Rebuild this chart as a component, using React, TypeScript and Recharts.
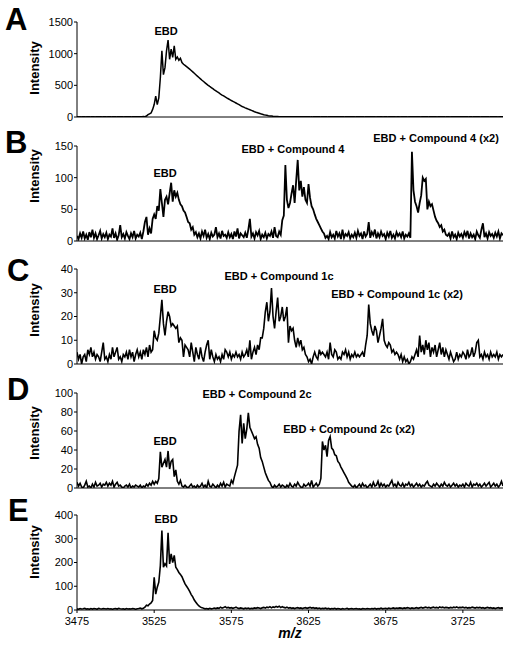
import React from 'react';
import { LineChart, Line, XAxis, YAxis } from 'recharts';

// m/z axis: values sampled every 1 m/z starting at 3475
const mzStart = 3475;
const mzStep = 1;
const mzDomain = [3475, 3751];
const mzTicks = [3475, 3525, 3575, 3625, 3675, 3725];

const intensityA = [
  3, 2, 4, 2, 3, 5, 2, 3, 4, 2,
  3, 4, 2, 3, 5, 3, 2, 4, 3, 2,
  4, 3, 2, 5, 3, 4, 2, 3, 4, 3,
  2, 4, 3, 5, 3, 2, 4, 3, 5, 4,
  3, 4, 5, 6, 5, 15, 36, 50, 64, 120,
  196, 329, 196, 302, 620, 1044, 668, 779, 1044, 1214,
  911, 1070, 940, 1124, 911, 948, 895, 927, 860, 832,
  815, 795, 775, 755, 735, 712, 690, 668, 645, 624,
  602, 580, 560, 540, 520, 500, 482, 465, 448, 430,
  413, 396, 380, 363, 347, 332, 317, 302, 288, 274,
  260, 247, 234, 221, 208, 195, 178, 166, 155, 144,
  134, 124, 114, 104, 94, 84, 75, 67, 59, 51,
  44, 37, 31, 26, 21, 17, 14, 11, 9, 7,
  6, 5, 4, 4, 3, 3, 2, 3, 2, 3,
  2, 3, 2, 2, 3, 2, 3, 2, 2, 3,
  3, 2, 4, 2, 3, 2, 3, 4, 2, 3,
  2, 3, 2, 4, 3, 2, 3, 2, 3, 4,
  3, 2, 3, 2, 4, 3, 2, 3, 2, 3,
  2, 4, 3, 2, 3, 3, 2, 4, 3, 2,
  3, 2, 3, 4, 2, 3, 2, 3, 2, 4,
  3, 2, 4, 3, 2, 3, 4, 2, 3, 2,
  4, 3, 2, 3, 2, 4, 3, 2, 3, 3,
  2, 3, 4, 2, 3, 2, 3, 4, 2, 3,
  3, 2, 3, 2, 4, 3, 2, 3, 4, 2,
  3, 4, 2, 3, 2, 3, 4, 3, 2, 3,
  2, 3, 3, 4, 2, 3, 2, 4, 3, 2,
  3, 2, 4, 3, 3, 2, 3, 2, 4, 3,
  2, 3, 4, 2, 3, 2, 3,
];

const intensityB = [
  8, 3, 12, 5, 15, 4, 10, 2, 14, 6,
  18, 5, 12, 3, 9, 16, 4, 11, 6, 13,
  3, 10, 7, 20, 5, 12, 2, 9, 25, 6,
  11, 4, 14, 8, 3, 12, 6, 16, 4, 10,
  7, 13, 3, 15, 30, 38, 10, 20, 12, 35,
  42, 35, 55, 48, 82, 60, 38, 65, 70, 58,
  75, 92, 62, 80, 70, 76, 65, 58, 55, 48,
  45, 38, 30, 28, 18, 22, 10, 14, 6, 12,
  4, 15, 8, 18, 5, 11, 3, 13, 7, 10,
  22, 6, 12, 4, 16, 8, 10, 5, 14, 6,
  11, 3, 15, 7, 20, 4, 12, 9, 6, 13,
  5, 18, 35, 7, 12, 4, 14, 9, 16, 3,
  10, 6, 13, 4, 11, 8, 15, 5, 22, 8,
  6, 15, 10, 33, 40, 120, 65, 52, 60, 75,
  88, 60, 95, 128, 80, 95, 70, 85, 65, 60,
  90, 68, 55, 50, 42, 35, 30, 25, 20, 15,
  12, 5, 8, 3, 14, 6, 10, 4, 16, 7,
  12, 3, 18, 5, 11, 8, 14, 4, 10, 6,
  13, 5, 16, 8, 12, 3, 15, 7, 11, 30,
  5, 14, 9, 18, 4, 12, 6, 15, 8, 11,
  3, 13, 7, 16, 5, 10, 4, 14, 8, 12,
  6, 15, 4, 10, 7, 12, 5, 141, 80, 62,
  55, 45, 60, 72, 100, 95, 98, 50, 62, 55,
  58, 48, 38, 32, 28, 22, 25, 15, 18, 10,
  8, 12, 4, 15, 6, 10, 3, 13, 7, 11,
  5, 14, 8, 16, 4, 12, 6, 10, 3, 15,
  9, 5, 18, 28, 6, 12, 4, 14, 8, 11,
  5, 13, 7, 15, 4, 12, 9,
];

const intensityC = [
  5, 2, 4, 0, 3, 4, 1, 6, 4, 7,
  3, 5, 2, 4, 3, 1, 5, 9, 2, 3,
  1, 4, 2, 7, 3, 5, 7, 2, 3, 1,
  4, 3, 5, 2, 6, 3, 5, 1, 4, 6,
  3, 5, 2, 6, 4, 7, 3, 8, 5, 6,
  14, 11, 10, 13, 20, 27, 17, 12, 18, 22,
  20, 16, 17, 16, 15, 16, 9, 11, 10, 3,
  8, 7, 6, 3, 9, 5, 1, 7, 4, 2,
  7, 3, 1, 5, 8, 10, 2, 6, 3, 1,
  4, 2, 3, 1, 4, 2, 6, 5, 3, 5,
  2, 4, 3, 5, 3, 4, 2, 5, 3, 4,
  6, 3, 10, 2, 5, 7, 4, 8, 6, 11,
  11, 15, 22, 26, 18, 22, 32, 20, 15, 22,
  28, 18, 20, 24, 18, 20, 24, 9, 16, 14,
  15, 10, 7, 11, 8, 10, 6, 7, 4, 3,
  1, 2, 0, 3, 5, 3, 2, 6, 4, 5,
  4, 3, 5, 2, 9, 4, 3, 6, 5, 2,
  3, 2, 5, 4, 6, 3, 5, 2, 4, 3,
  5, 3, 4, 3, 4, 5, 3, 8, 12, 25,
  17, 14, 12, 16, 14, 9, 12, 15, 19, 10,
  8, 7, 9, 8, 5, 6, 4, 5, 4, 2,
  4, 1, 3, 1, 2, 0, 1, 3, 2, 4,
  6, 3, 12, 5, 8, 4, 10, 6, 9, 3,
  7, 5, 8, 3, 6, 9, 4, 7, 3, 6,
  4, 2, 5, 3, 1, 2, 5, 2, 4, 3,
  5, 4, 2, 6, 3, 4, 7, 3, 5, 9,
  10, 3, 4, 2, 5, 3, 4, 2, 5, 3,
  4, 3, 5, 2, 4, 3, 4,
];

const intensityD = [
  6, 2, 5, 1, 0, 3, 7, 1, 2, 0,
  4, 1, 6, 2, 3, 5, 1, 4, 3, 6,
  2, 5, 3, 7, 1, 4, 6, 2, 3, 1,
  0, 2, 3, 1, 4, 0, 2, 1, 3, 2,
  1, 3, 0, 2, 1, 4, 2, 5, 3, 7,
  4, 7, 5, 10, 38, 22, 26, 30, 22, 39,
  20, 28, 30, 12, 19, 7, 4, 8, 2, 1,
  3, 1, 0, 2, 4, 1, 2, 0, 3, 1,
  2, 5, 1, 3, 0, 7, 2, 1, 4, 2,
  0, 3, 1, 5, 2, 6, 1, 4, 3, 2,
  8, 5, 12, 18, 24, 60, 77, 47, 68, 52,
  62, 79, 64, 60, 56, 52, 54, 46, 42, 32,
  28, 22, 16, 12, 8, 6, 2, 0, 3, 1,
  2, 4, 1, 3, 2, 0, 3, 1, 5, 2,
  1, 4, 2, 6, 3, 1, 0, 4, 2, 3,
  5, 2, 8, 1, 3, 5, 2, 4, 10, 49,
  40, 45, 33, 50, 54, 42, 40, 35, 34, 28,
  26, 22, 19, 16, 13, 10, 6, 4, 2, 1,
  3, 0, 2, 4, 1, 5, 2, 3, 0, 2,
  4, 1, 6, 2, 3, 7, 1, 5, 2, 4,
  1, 3, 2, 5, 8, 2, 4, 1, 6, 3,
  2, 5, 1, 4, 3, 6, 2, 4, 1, 3,
  5, 2, 4, 1, 3, 2, 5, 7, 3, 2,
  1, 4, 2, 5, 3, 1, 4, 2, 6, 3,
  2, 4, 1, 3, 5, 2, 4, 1, 3, 2,
  4, 1, 5, 3, 2, 6, 1, 4, 3, 5,
  2, 4, 1, 3, 5, 2, 4, 6, 1, 3,
  5, 2, 4, 1, 3, 7, 2,
];

const intensityE = [
  5, 3, 6, 4, 5, 7, 4, 5, 3, 6,
  4, 6, 5, 3, 7, 5, 4, 6, 5, 4,
  6, 4, 5, 3, 5, 6, 4, 7, 5, 4,
  5, 3, 6, 4, 5, 4, 6, 5, 3, 5,
  6, 8, 5, 7, 12, 20, 18, 25, 30, 40,
  138, 67, 96, 117, 187, 335, 180, 195, 185, 325,
  194, 236, 200, 230, 180, 170, 158, 150, 140, 125,
  110, 100, 90, 78, 65, 55, 42, 33, 24, 17,
  12, 10, 7, 5, 6, 4, 7, 5, 6, 8,
  6, 9, 7, 12, 8, 10, 14, 9, 11, 8,
  10, 7, 9, 12, 8, 6, 9, 7, 5, 8,
  6, 8, 5, 7, 6, 9, 7, 10, 8, 6,
  9, 11, 8, 12, 10, 14, 9, 13, 11, 15,
  12, 16, 10, 14, 11, 9, 12, 8, 10, 7,
  9, 6, 8, 10, 7, 9, 6, 8, 10, 7,
  9, 11, 8, 10, 7, 9, 6, 8, 5, 7,
  6, 8, 5, 7, 4, 6, 5, 7, 4, 6,
  5, 3, 6, 4, 5, 7, 4, 5, 6, 4,
  5, 6, 4, 5, 3, 6, 5, 4, 6, 5,
  4, 6, 5, 7, 4, 6, 5, 8, 5, 6,
  7, 5, 8, 6, 7, 9, 6, 8, 7, 9,
  8, 6, 9, 7, 10, 8, 6, 9, 7, 8,
  10, 7, 9, 11, 8, 10, 12, 9, 11, 8,
  10, 12, 9, 11, 8, 13, 10, 12, 9, 11,
  10, 8, 11, 9, 12, 10, 13, 9, 11, 10,
  12, 9, 11, 8, 10, 9, 12, 10, 8, 11,
  9, 11, 8, 10, 7, 9, 11, 8, 10, 7,
  9, 6, 8, 10, 7, 9, 8,
];

const ticksA = [0, 500, 1000, 1500];
const ticksB = [0, 50, 100, 150];
const ticksC = [0, 10, 20, 30, 40];
const ticksD = [0, 20, 40, 60, 80, 100];
const ticksE = [0, 100, 200, 300, 400];

const panelLetters = ['A', 'B', 'C', 'D', 'E'];
const peakLabelsA = ['EBD'];
const peakLabelsB = ['EBD', 'EBD + Compound 4', 'EBD + Compound 4 (x2)'];
const peakLabelsC = ['EBD', 'EBD + Compound 1c', 'EBD + Compound 1c (x2)'];
const peakLabelsD = ['EBD', 'EBD + Compound 2c', 'EBD + Compound 2c (x2)'];
const peakLabelsE = ['EBD'];
const yLabel = 'Intensity';
const xLabel = 'm/z';

const FONT = '"Liberation Sans", Arial, Helvetica, sans-serif';

const toRows = (vals: number[]) => vals.map((v, i) => ({ mz: mzStart + i * mzStep, v }));

type PanelCfg = {
  data: number[];
  ticks: number[];
  plotTop: number;
  letter: string;
  letterBaseline: number;
  letterX: number;
  intensityCenter: number;
  labels: string[];
  labelPos: [number, number][];
  showX: boolean;
  stroke: number;
};

const PLOT_H = 95;
const MT = 10;

const panels: PanelCfg[] = [
  { data: intensityA, ticks: ticksA, plotTop: 22, letter: panelLetters[0], letterBaseline: 30, letterX: 5, intensityCenter: 68, labels: peakLabelsA, labelPos: [[166, 35]], showX: false, stroke: 1.5 },
  { data: intensityB, ticks: ticksB, plotTop: 146, letter: panelLetters[1], letterBaseline: 153, letterX: 5, intensityCenter: 176, labels: peakLabelsB, labelPos: [[165, 177], [293, 153], [436, 142]], showX: false, stroke: 1.8 },
  { data: intensityC, ticks: ticksC, plotTop: 269, letter: panelLetters[2], letterBaseline: 281, letterX: 7, intensityCenter: 310, labels: peakLabelsC, labelPos: [[165, 293], [279, 280], [397, 298]], showX: false, stroke: 1.6 },
  { data: intensityD, ticks: ticksD, plotTop: 393, letter: panelLetters[3], letterBaseline: 400, letterX: 7, intensityCenter: 433, labels: peakLabelsD, labelPos: [[165, 445], [257, 398], [349, 433]], showX: false, stroke: 1.6 },
  { data: intensityE, ticks: ticksE, plotTop: 515, letter: panelLetters[4], letterBaseline: 521, letterX: 8, intensityCenter: 552, labels: peakLabelsE, labelPos: [[166, 523]], showX: true, stroke: 1.6 },
];

function Panel({ cfg }: { cfg: PanelCfg }) {
  const xH = cfg.showX ? 30 : 10;
  const height = MT + PLOT_H + xH;
  const rows = toRows(cfg.data);
  const max = cfg.ticks[cfg.ticks.length - 1];
  return (
    <div style={{ position: 'absolute', left: 0, top: cfg.plotTop - MT }}>
      <LineChart width={516} height={height} data={rows} margin={{ top: MT, right: 13, left: 0, bottom: 0 }}>
        <XAxis
          dataKey="mz"
          type="number"
          domain={mzDomain}
          ticks={mzTicks}
          allowDataOverflow
          height={xH}
          axisLine={{ stroke: '#000', strokeWidth: 1 }}
          tickLine={cfg.showX ? { stroke: '#000' } : false}
          tick={cfg.showX ? { fontSize: 11, fill: '#000', fontFamily: FONT } : false}
          tickSize={3}
          tickMargin={4}
          interval={0}
        />
        <YAxis
          width={77}
          type="number"
          domain={[0, max]}
          ticks={cfg.ticks}
          interval={0}
          allowDataOverflow
          axisLine={{ stroke: '#000', strokeWidth: 1 }}
          tickLine={{ stroke: '#000' }}
          tickSize={3}
          tickMargin={1}
          tick={{ fontSize: 11, fill: '#000', fontFamily: FONT }}
        />
        <Line
          type="linear"
          dataKey="v"
          stroke="#000"
          strokeWidth={cfg.stroke}
          dot={false}
          activeDot={false}
          isAnimationActive={false}
        />
      </LineChart>
    </div>
  );
}

export default function App() {
  return (
    <div style={{ position: 'absolute', left: 0, top: 0, width: 516, height: 655, background: '#fff', fontFamily: FONT }}>
      {panels.map((p, i) => (
        <Panel key={i} cfg={p} />
      ))}
      <svg width={516} height={655} style={{ position: 'absolute', left: 0, top: 0, pointerEvents: 'none' }}>
        {panels.map((p, i) => (
          <g key={i} fontFamily={FONT} fill="#000">
            <text x={p.letterX} y={p.letterBaseline} fontSize={31} fontWeight="bold">{p.letter}</text>
            <text
              x={0}
              y={0}
              fontSize={13}
              fontWeight="bold"
              textAnchor="middle"
              transform={`translate(39, ${p.intensityCenter}) rotate(-90)`}
            >
              {yLabel}
            </text>
            {p.labels.map((l, j) => (
              <text key={j} x={p.labelPos[j][0]} y={p.labelPos[j][1]} fontSize={11} fontWeight="bold" textAnchor="middle">
                {l}
              </text>
            ))}
          </g>
        ))}
        <text x={290} y={638} fontSize={14} fontWeight="bold" fontStyle="italic" textAnchor="middle" fontFamily={FONT}>
          {xLabel}
        </text>
      </svg>
    </div>
  );
}
